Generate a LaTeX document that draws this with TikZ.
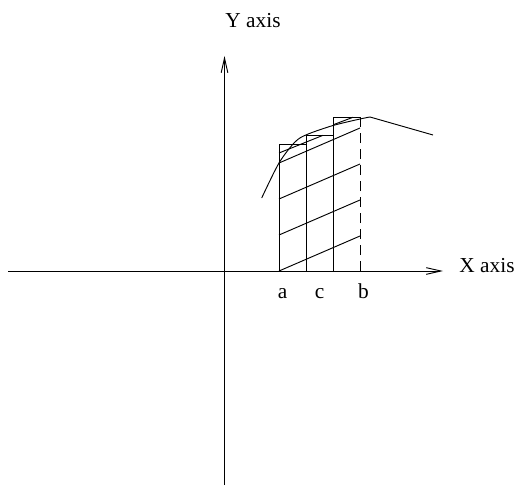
\documentclass[tikz,border=0pt]{standalone}
\usepackage{fontspec}
\setmainfont{Liberation Serif}
\usetikzlibrary{arrows.meta}
\begin{document}
\begin{tikzpicture}[x=0.75pt,y=-0.75pt,line width=0.7pt,
ax/.style={-{Straight Barb[length=11pt,width=5pt]}},
lbl/.style={font=\fontsize{16}{19}\selectfont,inner sep=0pt},
lim/.style={dash pattern=on 7.5pt off 4.5pt}]
\useasboundingbox (0,0) rectangle (517,485);
\coordinate (xl) at (8,271);\coordinate (xr) at (443,271);
\coordinate (yb) at (224.5,485);\coordinate (yt) at (224.5,56);
\draw[ax] (xl)--(xr);\draw[ax] (yb)--(yt);
\node[lbl,anchor=west] (xlab) at (459,266) {X axis};
\node[lbl] (ylab) at (253,21) {Y axis};
% strips under the curve
\coordinate (a) at (279,271);\coordinate (m) at (306,271);
\coordinate (n) at (333.3,271);\coordinate (b) at (360,271);
\draw (a) rectangle (306,144);\draw (m) rectangle (333.3,135.3);
\draw (n)--(333.3,117.3)--(360,117.3);
\draw[lim] (b)--(360,117.3);
\foreach \d in {0,36,72,108} \draw (279,271-\d)--(360,236-\d);
\draw (279,153)--(323,135.3);\draw (333.3,124.7)--(353,117.3);
% curve
\draw plot[smooth] coordinates {(261.7,198) (279,163) (295,142) (307,134.5) (333,125.5) (360,119) (370,117)}--(433,135);
\node[lbl,anchor=base] (la) at (282.5,298) {a};
\node[lbl,anchor=base] (lc) at (319.5,298) {c};
\node[lbl,anchor=base] (lb) at (363.5,298) {b};
\end{tikzpicture}
\end{document}
